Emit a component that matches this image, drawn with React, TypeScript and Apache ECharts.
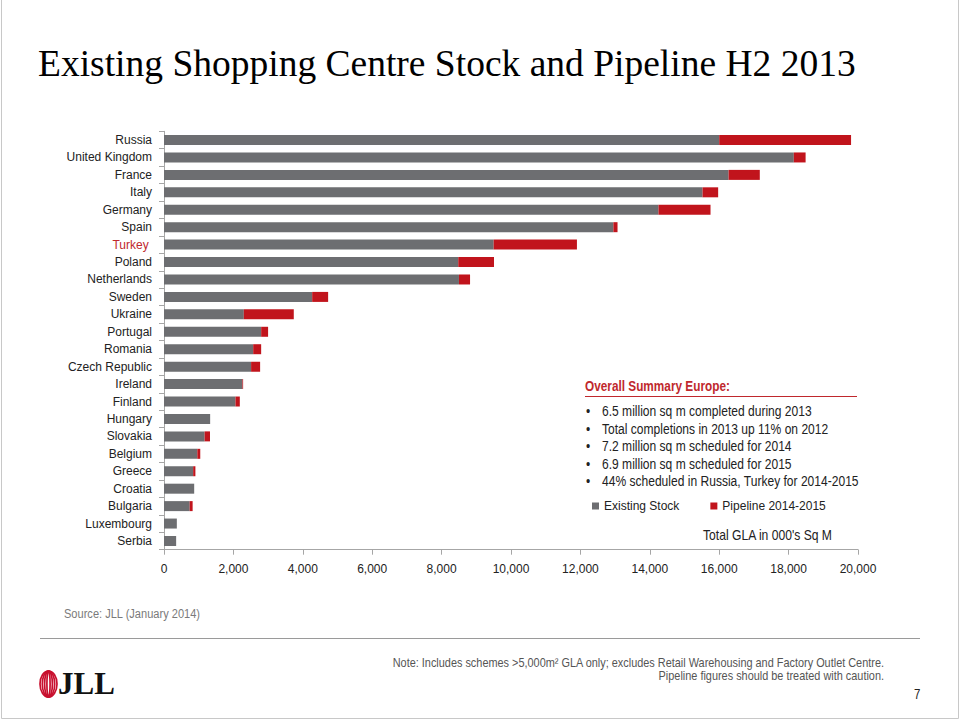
import React, { useEffect, useRef } from "react";
import * as echarts from "echarts";

const countries = [
  "Russia", "United Kingdom", "France", "Italy", "Germany", "Spain", "Turkey ",
  "Poland", "Netherlands", "Sweden", "Ukraine", "Portugal", "Romania",
  "Czech Republic", "Ireland", "Finland", "Hungary", "Slovakia", "Belgium",
  "Greece", "Croatia", "Bulgaria", "Luxembourg", "Serbia",
];
const existingStock = [
  16000, 18150, 16270, 15520, 14250, 12950, 9500, 8480, 8500, 4270, 2300, 2800,
  2570, 2510, 2260, 2060, 1330, 1170, 960, 840, 870, 740, 370, 350,
];
const pipeline = [
  3800, 340, 900, 450, 1500, 120, 2400, 1030, 320, 460, 1440, 200,
  230, 260, 20, 125, 0, 155, 85, 65, 0, 85, 0, 0,
];
const xTicks = { min: 0, max: 20000, interval: 2000 };
const summaryTitle = "Overall Summary Europe:";
const summaryBullets = [
  "6.5 million sq m completed during 2013",
  "Total completions in 2013 up 11% on 2012",
  "7.2 million sq m scheduled for 2014",
  "6.9 million sq m scheduled for 2015",
  "44% scheduled in Russia, Turkey for 2014-2015",
];
const titleText = "Existing Shopping Centre Stock and Pipeline H2 2013";
const unitText = "Total GLA in 000's Sq M";
const sourceText = "Source: JLL (January 2014)";
const noteLines = [
  "Note: Includes schemes >5,000m\u00B2 GLA only; excludes Retail Warehousing and Factory Outlet Centre.",
  "Pipeline figures should be treated with caution.",
];
const pageNumber = "7";

const GRAY = "#6d6e71";
const RED = "#c1141c";
const SANS = "'Liberation Sans', Arial, sans-serif";
const SERIF = "'Liberation Serif', 'Times New Roman', serif";
const NARROW_SCALE = 0.82;

function ntext(x: number, y: number, text: string, font: string, fill: string, align = "left") {
  return {
    type: "text",
    x, y, scaleX: NARROW_SCALE, scaleY: 1,
    style: { text, font, fill, align, verticalAlign: "middle" },
  };
}

export default function App() {
  const ref = useRef<HTMLDivElement>(null);
  useEffect(() => {
    if (!ref.current) return;
    const chart = echarts.init(ref.current, null, { renderer: "svg" });
    const bulletTexts: any[] = [];
    summaryBullets.forEach((t, i) => {
      const y = 411.5 + i * 17.4;
      bulletTexts.push(ntext(586, y, "\u2022", `14.7px ${SANS}`, "#222"));
      bulletTexts.push(ntext(602, y, t, `14.7px ${SANS}`, "#222"));
    });
    const logoRings = [8.5, 6.2, 3.9, 1.6].map((rx) => ({
      type: "ellipse",
      shape: { cx: 48.5, cy: 684, rx, ry: 13 },
      style: { fill: "none", stroke: "#c8102e", lineWidth: 1.7 },
    }));
    chart.setOption({
      animation: false,
      backgroundColor: "#ffffff",
      grid: { left: 164, right: 102, top: 131.3, height: 418.4, containLabel: false },
      legend: {
        left: 592, top: 500, padding: 0, itemWidth: 7, itemHeight: 7, itemGap: 31,
        icon: "rect",
        textStyle: { fontFamily: SANS, fontSize: 12, color: "#222" },
        data: ["Existing Stock", "Pipeline 2014-2015"],
      },
      xAxis: {
        type: "value", min: xTicks.min, max: xTicks.max, interval: xTicks.interval,
        axisLine: { show: true, lineStyle: { color: "#a6a6a6" } },
        axisTick: { show: true, length: 5, lineStyle: { color: "#a6a6a6" } },
        splitLine: { show: false },
        axisLabel: {
          margin: 13, fontFamily: SANS, fontSize: 12, color: "#222",
          formatter: (v: number) => v.toLocaleString("en-US"),
        },
      },
      yAxis: {
        type: "category", inverse: true,
        data: countries.map((c) =>
          c.trim() === "Turkey" ? { value: c, textStyle: { color: "#c0282d" } } : c
        ),
        axisLine: { show: true, lineStyle: { color: "#a6a6a6" } },
        axisTick: { show: true, length: 5, lineStyle: { color: "#a6a6a6" } },
        axisLabel: { margin: 12, fontFamily: SANS, fontSize: 12, color: "#222", interval: 0 },
      },
      series: [
        {
          name: "Existing Stock", type: "bar", stack: "total", barWidth: 10,
          itemStyle: { color: GRAY }, data: existingStock,
        },
        {
          name: "Pipeline 2014-2015", type: "bar", stack: "total", barWidth: 10,
          itemStyle: { color: RED }, data: pipeline,
        },
      ],
      graphic: [
        {
          type: "polyline",
          shape: { points: [[1.5, 0], [1.5, 718.5], [958.5, 718.5], [958.5, 0]] },
          style: { fill: "none", stroke: "#c8c8c8", lineWidth: 1 },
        },
        {
          type: "text", left: 38, top: 44,
          style: { text: titleText, font: `37.5px ${SERIF}`, fill: "#000" },
        },
        ntext(585, 386, summaryTitle, `bold 14.4px ${SANS}`, "#c0282d"),
        {
          type: "line", shape: { x1: 585, y1: 396.5, x2: 857, y2: 396.5 },
          style: { stroke: "#c0282d", lineWidth: 1 },
        },
        ...bulletTexts,
        ntext(703, 535, unitText, `14.8px ${SANS}`, "#222"),
        ntext(64, 614, sourceText, `13.5px ${SANS}`, "#7a7a7a"),
        {
          type: "line", shape: { x1: 40, y1: 638.5, x2: 920, y2: 638.5 },
          style: { stroke: "#9a9a9a", lineWidth: 1 },
        },
        ntext(884, 663, noteLines[0], `13.3px ${SANS}`, "#555", "right"),
        ntext(884, 676, noteLines[1], `13.3px ${SANS}`, "#555", "right"),
        ntext(914, 694, pageNumber, `14px ${SANS}`, "#222"),
        ...logoRings,
        {
          type: "text", left: 58, top: 668,
          style: { text: "JLL", font: `bold 31px ${SERIF}`, fill: "#111" },
        },
      ],
    });
    return () => chart.dispose();
  }, []);
  return (
    <div
      ref={ref}
      style={{ position: "absolute", left: 0, top: 0, width: 960, height: 720 }}
    />
  );
}
